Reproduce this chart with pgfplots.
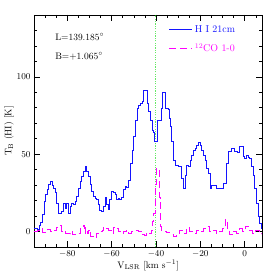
\documentclass[border=0pt]{standalone}
\usepackage{pgfplots}
\pgfplotsset{compat=1.18}
\definecolor{hiblue}{RGB}{20,20,255}
\definecolor{comag}{RGB}{255,0,255}
\begin{document}
\begin{tikzpicture}
\path[use as bounding box] (-34bp,-30bp) rectangle (243bp,247bp);
\begin{axis}[
  at={(0,0)}, anchor=south west,
  scale only axis, width=228.5bp, height=232bp,
  xmin=-95, xmax=8, ymin=-10, ymax=140,
  xtick={-80,-60,-40,-20,0}, ytick={0,50,100},
  minor xtick={-95,-90,...,5}, minor ytick={-10,0,...,140},
  tick align=inside, tick pos=both,
  major tick length=6bp, minor tick length=3bp,
  tick style={black, line width=0.6pt},
  axis line style={line width=0.8pt},
  ticklabel style={font=\fontsize{9.5}{10}\selectfont},
  xlabel={V$_{\rm LSR}$ [km s$^{-1}$]},
  ylabel={T$_{\rm B}$ (HI) [K]},
  label style={font=\fontsize{9.5}{10}\selectfont},
  xlabel style={yshift=4bp},
  ylabel style={yshift=-4bp},
  legend style={draw=none, fill=none, at={(0.59,0.965)}, anchor=north west,
    font=\fontsize{10}{11}\selectfont, row sep=6bp, inner sep=0pt},
  legend cell align=left,
  legend image code/.code={\draw[#1] (0bp,0bp) -- (23bp,0bp);},
]
\addplot[green!85!black, mark=none, line width=1.6pt, dash pattern=on 1.2pt off 1.2pt, opacity=0.6, forget plot] coordinates {(-40.2,-10) (-40.2,140)};
\addplot[hiblue, line width=0.8pt, const plot] coordinates {
(-95,2) (-93.5,1.5) (-92.5,4) (-91.9,5.6) (-91.2,11) (-90.5,19.8) (-89.8,24)
(-89,27) (-88.5,30.3) (-87.7,32.5) (-86.9,30) (-86.2,28) (-85.4,25) (-84.7,18.5)
(-84,12) (-83.2,11.5) (-82.5,13) (-81.7,18.5) (-81,15) (-80.2,18.5) (-79.5,11.5)
(-78.8,16.5) (-78,18.5) (-77.3,17.5) (-76.5,19.6) (-75.8,22.8) (-75,28) (-74.3,32.5)
(-73.5,35.7) (-72.8,39) (-72,42) (-71.3,39) (-70.5,35.7) (-69.8,30.3) (-69,26)
(-68.3,22.8) (-67.5,21.5) (-66.8,20.7) (-66,17.4) (-65.3,13.5) (-64.5,13) (-63.8,16.5)
(-63,22) (-62.3,17.5) (-61.5,14) (-60.8,20.7) (-60,26) (-59.3,25.5) (-58.5,24)
(-57.8,20.7) (-57,21.7) (-56.3,20.7) (-55.5,22) (-54.8,27) (-54,29) (-53.3,28.5)
(-52.5,33) (-51.6,44) (-50.8,52.7) (-50.1,61.3) (-49.3,72) (-48.6,79.6) (-47.8,81.7)
(-47.1,82.8) (-46.3,84) (-45.6,91.4) (-44.1,82.8) (-43.3,77.4) (-42.6,72) (-41.8,65.6)
(-41.2,64) (-40.7,58) (-39.2,72) (-38.2,72) (-37.4,79.6) (-36.9,89.7) (-35.9,79.6)
(-34.6,79) (-33.9,73) (-33.3,67.7) (-32.9,58) (-32.1,46.3) (-31.4,43) (-29.9,42)
(-28.4,34.4) (-27.7,28) (-26.9,36) (-26.1,43) (-25.4,42) (-24.7,46.3) (-23.9,49.5)
(-23.2,52.7) (-22.4,53.5) (-21.7,56) (-20.9,57.4) (-20.2,56) (-19.4,52.7) (-18.7,49.5)
(-17.9,46.3) (-17.2,41) (-16.4,37.7) (-15.7,28) (-15,30) (-13.5,30) (-12.8,28)
(-10.5,28) (-9.5,31) (-8.2,44) (-7.5,51.6) (-6,53.8) (-4.5,52) (-3.5,51)
(-2.2,54.8) (-0.8,48.4) (0,47.5) (0.8,49) (1.5,48) (2.2,47) (3,42) (3.8,36.6)
(4.5,28) (5.2,18.3) (6,9.7) (6.8,5.4) (7.5,2.3) (8,2.3)
};
\addlegendentry{\textcolor{hiblue}{H I 21cm}}
\addplot[comag, line width=0.8pt, const plot, dash pattern=on 7bp off 4bp] coordinates {
(-95,0.3) (-93.5,0.8) (-91.9,2) (-91.2,-0.5) (-89.5,0.5) (-88.9,1.5) (-87.5,0)
(-85.9,1) (-84.8,2.6) (-83.3,3.7) (-82.5,0.2) (-80.7,-1) (-79.5,-1.3) (-78.5,0.2)
(-77.5,-1.9) (-75.5,-1) (-74,2.6) (-72.8,4.1) (-72.2,-1) (-71.8,2.5) (-71,-1)
(-70.3,1) (-69.5,-3) (-68.3,-4) (-66.8,-1) (-65.3,0.2) (-64.3,1) (-63.5,2.8)
(-62.3,2) (-61.3,1) (-60.3,-1) (-59.1,2.8) (-57.9,2) (-56.8,0.2) (-55.8,-1)
(-54.8,0.2) (-53.5,1) (-52.4,-1) (-50.9,0.2) (-49.3,1) (-47.8,0.2) (-46.5,-2)
(-45.3,-2.5) (-44.3,-1) (-43.3,-1.5) (-42.3,1) (-41.8,6.5) (-41.3,12) (-40.5,30.3)
(-39.8,40.5) (-38.3,22) (-37.8,3.5) (-37.5,0.2) (-35.5,-0.5) (-33.8,-2) (-32.3,-3)
(-30.8,-1) (-29.3,1) (-27.8,-1) (-26.3,2.5) (-24.8,0.2) (-23.3,-1) (-21.8,1)
(-20.3,0) (-18.8,1.8) (-17.3,3) (-15.8,0.2) (-14.3,1) (-12.8,-1) (-11.4,0)
(-10,1.8) (-8.8,7.7) (-7.9,1) (-6.8,-2) (-5.4,0) (-3.9,-1) (-2.4,1.8) (-1,0.2)
(0.2,3.5) (1.6,1) (3.6,-1) (5,1) (6.6,0) (7.4,-1.5) (8,-1.5)
};
\addlegendentry{\textcolor{comag}{$^{12}$CO 1-0}}
\node[anchor=west, font=\fontsize{9.5}{10}\selectfont] at (axis cs:-87,125.6) {L=139.185$^\circ$};
\node[anchor=west, font=\fontsize{9.5}{10}\selectfont] at (axis cs:-87,113.3) {B=+1.065$^\circ$};
\end{axis}
\end{tikzpicture}
\end{document}
